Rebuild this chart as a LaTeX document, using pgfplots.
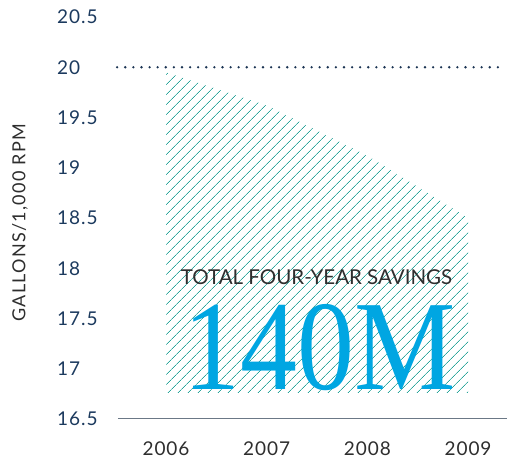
\documentclass[border=0pt]{standalone}
\usepackage{fontspec}
\setmainfont{Lato}
\newfontfamily\trackfont[LetterSpace=5]{Lato}
\newfontfamily\labelfont[LetterSpace=7]{Lato}
\newfontfamily\bigserif{Liberation Serif}
\usepackage{pgfplots}
\pgfplotsset{compat=1.18}
\usetikzlibrary{patterns.meta}
\definecolor{hatchteal}{HTML}{2AA59B}
\definecolor{ticknavy}{HTML}{1C3A5E}
\definecolor{textgray}{HTML}{2E2E2E}
\definecolor{axisgray}{HTML}{6B7886}
\definecolor{bigblue}{HTML}{00A6E2}
\definecolor{dotnavy}{HTML}{1A3352}

\begin{document}
\begin{tikzpicture}
\begin{axis}[
    at={(0,0)}, anchor=south west,
    scale only axis,
    width=389pt, height=402pt,
    xmin=2005.523, xmax=2009.387,
    ymin=16.5, ymax=20.5,
    axis x line*=bottom,
    axis y line*=left,
    x axis line style={draw=axisgray, line width=1pt, -},
    y axis line style={draw=none},
    xtick={2006,2007,2008,2009},
    xticklabels={2006,2007,2008,2009},
    ytick={16.5,17,...,20.5},
    major tick length=0pt,
    /pgf/number format/assume math mode=true,
    xticklabel style={font=\trackfont\fontsize{19}{19}\selectfont, text=textgray, anchor=center, yshift=-30pt},
    yticklabel style={font=\trackfont\fontsize{19}{19}\selectfont, text=ticknavy, anchor=west, inner sep=0pt, xshift=-61pt},
    every axis y label/.style={at={([xshift=-98pt]rel axis cs:0,0.488)}, anchor=center, rotate=90},
    ylabel={\labelfont\fontsize{18}{18}\selectfont\color{textgray}GALLONS/1,000 RPM},
    clip=false,
]
% savings area
\addplot[draw=none, pattern={Lines[angle=45, distance=7.4pt, line width=0.9pt]}, pattern color=hatchteal]
    coordinates {(2006,16.76) (2006,19.95) (2007,19.62) (2008,19.12) (2009,18.5) (2009,16.76)} -- cycle;
% 20 gal reference
\addplot[dotnavy, line width=2.6pt, line cap=round, dash pattern=on 0pt off 8.1pt]
    coordinates {(2005.515,20) (2009.37,20)};
\node[text=textgray, font=\fontsize{20.5}{20.5}\selectfont] at (axis cs:2007.495,17.913) {TOTAL FOUR-YEAR SAVINGS};
\node[text=bigblue, anchor=base, inner sep=0pt, xscale=0.89, font=\bigserif\fontsize{128}{128}\selectfont] at (axis cs:2007.525,16.789) {140M};
\end{axis}
\pgfresetboundingbox
\path[use as bounding box] (-118pt,-43pt) rectangle (389pt,419pt);
\end{tikzpicture}
\end{document}
